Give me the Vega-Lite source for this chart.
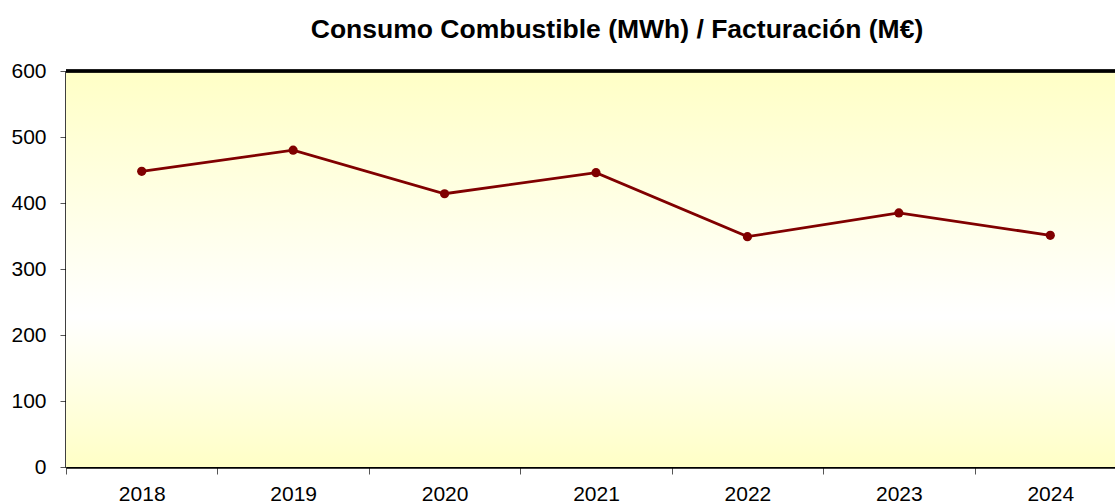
{
  "$schema": "https://vega.github.io/schema/vega-lite/v6.json",
  "autosize": {"type": "none"},
  "padding": {"left": 66, "top": 71, "right": 0, "bottom": 35},
  "width": 1060,
  "height": 396,
  "background": "white",
  "config": {
    "font": "Liberation Sans",
    "view": {"stroke": null}
  },
  "title": {
    "text": "Consumo Combustible (MWh) / Facturación (M€)",
    "font": "Liberation Sans",
    "fontSize": 26.5,
    "fontWeight": "bold",
    "color": "black",
    "anchor": "middle",
    "frame": "group",
    "dx": 21,
    "offset": 17
  },
  "data": {
    "values": [
      {"year": "2018", "value": 448},
      {"year": "2019", "value": 480},
      {"year": "2020", "value": 414},
      {"year": "2021", "value": 446},
      {"year": "2022", "value": 349},
      {"year": "2023", "value": 385},
      {"year": "2024", "value": 351}
    ]
  },
  "layer": [
    {
      "data": {"values": [{"lo": 0, "hi": 600}]},
      "mark": {
        "type": "rect",
        "fill": {
          "gradient": "linear",
          "x1": 0, "y1": 0, "x2": 0, "y2": 1,
          "stops": [
            {"offset": 0, "color": "#FFFFC6"},
            {"offset": 0.62, "color": "#FFFFFF"},
            {"offset": 1, "color": "#FFFFC6"}
          ]
        }
      },
      "encoding": {
        "y": {"field": "hi", "type": "quantitative", "scale": {"domain": [0, 600]}},
        "y2": {"field": "lo"}
      }
    },
    {
      "mark": {"type": "rule", "color": "black", "strokeWidth": 2.5},
      "encoding": {
        "y": {"datum": 600, "type": "quantitative"}
      }
    },
    {
      "mark": {"type": "line", "color": "#800000", "strokeWidth": 2.8, "point": {"filled": true, "color": "#800000", "size": 85, "opacity": 1}},
      "encoding": {
        "x": {
          "field": "year", "type": "ordinal",
          "scale": {"paddingInner": 0, "paddingOuter": 0},
          "axis": {
            "title": null, "labelAngle": 0, "labelFontSize": 21, "labelColor": "black",
            "domainColor": "black", "domainWidth": 2.5, "tickColor": "#555555", "tickSize": 7,
            "tickBand": "extent", "labelPadding": 9, "grid": false
          }
        },
        "y": {
          "field": "value", "type": "quantitative",
          "scale": {"domain": [0, 600], "nice": false},
          "axis": {
            "title": null, "values": [0, 100, 200, 300, 400, 500, 600], "labelFontSize": 21, "labelColor": "black",
            "domainColor": "black", "domainWidth": 2.5, "tickColor": "#555555", "tickSize": 6,
            "labelPadding": 14, "grid": false
          }
        }
      }
    }
  ]
}
